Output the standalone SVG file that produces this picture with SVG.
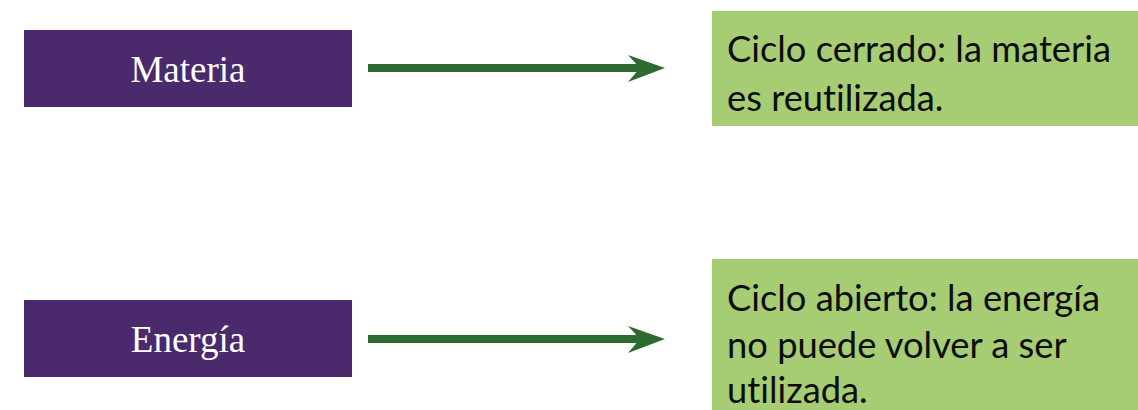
<svg xmlns="http://www.w3.org/2000/svg" width="1138" height="410" viewBox="0 0 1138 410">
<style>
.src{fill:#4a296d}
.dst{fill:#a6cc74}
.lbl{font-family:"Liberation Serif",serif;font-size:37px;fill:#ffffff;text-anchor:middle}
.txt{font-family:Lato,"Liberation Sans",sans-serif;font-size:36.3px;fill:#0d0d0d;font-variant-ligatures:none}
.shaft{stroke:#2d6a30;stroke-width:8;fill:none}
.head{fill:#2d6a30}
</style>
<rect width="1138" height="410" fill="#ffffff"/>
<g id="materia">
<rect class="src" x="24" y="30" width="328" height="77"/>
<text class="lbl" x="188" y="82">Materia</text>
</g>
<g id="energia">
<rect class="src" x="24" y="300" width="328" height="77"/>
<text class="lbl" x="188" y="352">Energía</text>
</g>
<g id="ciclo-cerrado">
<rect class="dst" x="712" y="11" width="426" height="115"/>
<text class="txt" x="727" y="62">Ciclo cerrado: la materia</text>
<text class="txt" x="727" y="111">es reutilizada.</text>
</g>
<g id="ciclo-abierto">
<rect class="dst" x="712" y="259" width="426" height="151"/>
<text class="txt" x="727" y="311">Ciclo abierto: la energía</text>
<text class="txt" x="727" y="358">no puede volver a ser</text>
<text class="txt" x="727" y="403">utilizada.</text>
</g>
<g id="connectors">
<line class="shaft" x1="368" y1="68" x2="640" y2="68"/>
<polygon class="head" points="628,55 665,68 628,82 640,68"/>
<line class="shaft" x1="368" y1="339" x2="640" y2="339"/>
<polygon class="head" points="628,326 665,339 628,353 640,339"/>
</g>
</svg>
